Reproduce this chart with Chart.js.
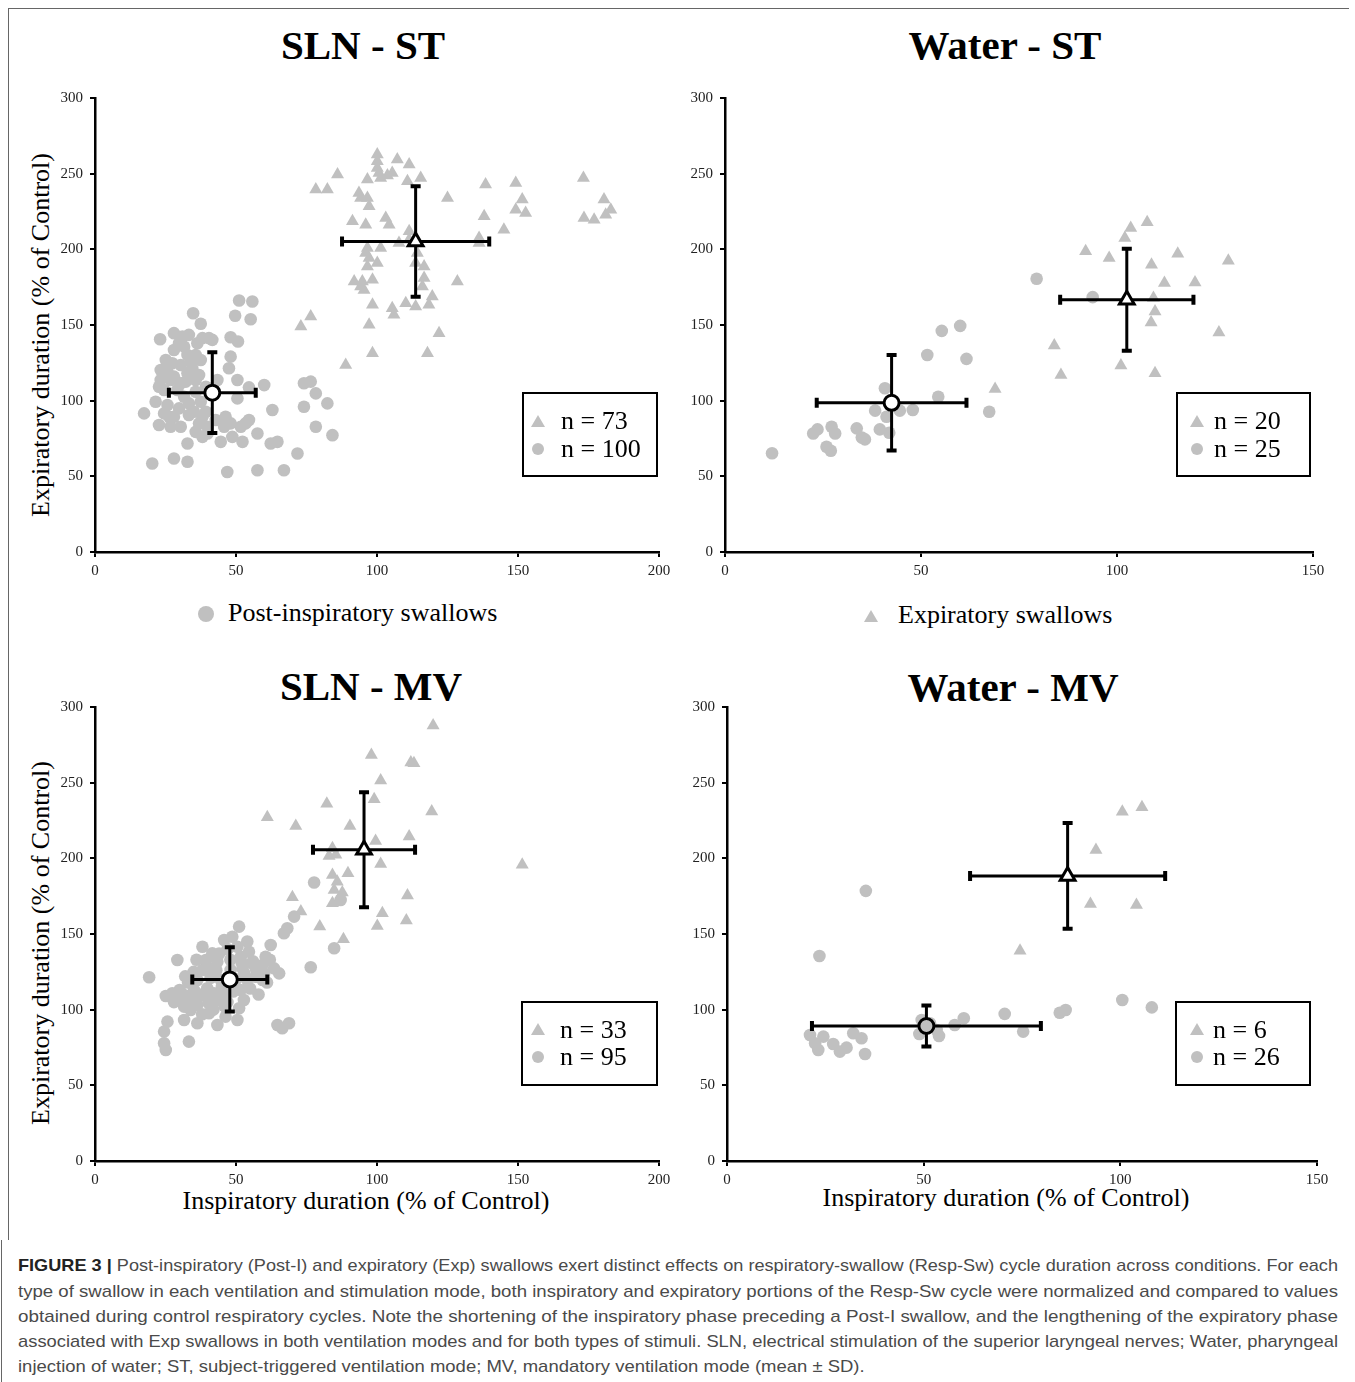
<!DOCTYPE html>
<html>
<head>
<meta charset="utf-8">
<title>Figure 3</title>
<script src="https://cdn.jsdelivr.net/npm/chart.js@4.4.0/dist/chart.umd.min.js"></script>
<style>
  body { margin: 0; background: #fff; }
  #page { position: relative; width: 1355px; height: 1382px; overflow: hidden; background: #fff;
          font-family: 'Liberation Serif', 'Times New Roman', serif; color: #000; }
  .abs { position: absolute; white-space: nowrap; }
  canvas { position: absolute; }
  .title { font-weight: bold; font-size: 41px; width: 600px; height: 50px; line-height: 50px; text-align: center; }
  .axt { font-size: 26px; width: 600px; height: 30px; line-height: 30px; text-align: center; }
  .ylab { transform: rotate(-90deg); }
  .leg { font-size: 26px; height: 30px; line-height: 30px; }
  .nbox { border: 2px solid #000; box-sizing: border-box; }
  .ntxt { font-size: 26px; height: 28px; line-height: 28px; }
  .dot { border-radius: 50%; background: #c0c0c0; }
  .tri { width: 0; height: 0; border-left: 7px solid transparent; border-right: 7px solid transparent; border-bottom: 12px solid #c0c0c0; }
  .line { position: absolute; background: #666; }
  .cap { font-family: 'Liberation Sans', Arial, sans-serif; font-size: 17px; color: #4a4a4a; height: 22px; line-height: 22px;
         left: 18px; transform-origin: 0 50%; }
  .cap b { color: #222; }
</style>
</head>
<body>
<div id="page">
  <div class="line" style="left:8px;top:8px;width:1341px;height:1px"></div>
  <div class="line" style="left:8px;top:8px;width:1px;height:1232px"></div>
  <div class="line" style="left:1px;top:1240px;width:1px;height:142px"></div>

  <div class="abs title" style="left:63px;top:20px">SLN - ST</div>
  <div class="abs title" style="left:705px;top:20px">Water - ST</div>
  <div class="abs title" style="left:71px;top:661px">SLN - MV</div>
  <div class="abs title" style="left:713px;top:662px">Water - MV</div>

  <div class="abs axt ylab" style="left:-259px;top:320px">Expiratory duration (% of Control)</div>
  <div class="abs axt ylab" style="left:-259px;top:928px">Expiratory duration (% of Control)</div>
  <div class="abs axt" style="left:66px;top:1186px">Inspiratory duration (% of Control)</div>
  <div class="abs axt" style="left:706px;top:1183px">Inspiratory duration (% of Control)</div>

  <canvas id="c1"></canvas>
  <canvas id="c2"></canvas>
  <canvas id="c3"></canvas>
  <canvas id="c4"></canvas>

  <!-- legende tengah -->
  <div class="abs dot" style="left:198px;top:606px;width:16px;height:16px"></div>
  <div class="abs leg" style="left:228px;top:598px">Post-inspiratory swallows</div>
  <div class="abs tri" style="left:864px;top:610px"></div>
  <div class="abs leg" style="left:898px;top:600px">Expiratory swallows</div>

  <!-- kotak n -->
  <div class="abs nbox" style="left:522px;top:392px;width:136px;height:85px"></div>
  <div class="abs tri" style="left:531px;top:415px"></div>
  <div class="abs dot" style="left:532px;top:443px;width:12px;height:12px"></div>
  <div class="abs ntxt" style="left:561px;top:407px">n = 73</div>
  <div class="abs ntxt" style="left:561px;top:435px">n = 100</div>

  <div class="abs nbox" style="left:1176px;top:392px;width:135px;height:85px"></div>
  <div class="abs tri" style="left:1190px;top:415px"></div>
  <div class="abs dot" style="left:1191px;top:443px;width:12px;height:12px"></div>
  <div class="abs ntxt" style="left:1214px;top:407px">n = 20</div>
  <div class="abs ntxt" style="left:1214px;top:435px">n = 25</div>

  <div class="abs nbox" style="left:521px;top:1001px;width:137px;height:85px"></div>
  <div class="abs tri" style="left:531px;top:1023px"></div>
  <div class="abs dot" style="left:532px;top:1051px;width:12px;height:12px"></div>
  <div class="abs ntxt" style="left:560px;top:1016px">n = 33</div>
  <div class="abs ntxt" style="left:560px;top:1043px">n = 95</div>

  <div class="abs nbox" style="left:1175px;top:1001px;width:136px;height:85px"></div>
  <div class="abs tri" style="left:1190px;top:1023px"></div>
  <div class="abs dot" style="left:1191px;top:1051px;width:12px;height:12px"></div>
  <div class="abs ntxt" style="left:1213px;top:1016px">n = 6</div>
  <div class="abs ntxt" style="left:1213px;top:1043px">n = 26</div>

  <!-- caption -->
  <div class="abs cap" style="top:1255px"><b>FIGURE 3 |</b> Post-inspiratory (Post-I) and expiratory (Exp) swallows exert distinct effects on respiratory-swallow (Resp-Sw) cycle duration across conditions. For each</div>
  <div class="abs cap" style="top:1281px">type of swallow in each ventilation and stimulation mode, both inspiratory and expiratory portions of the Resp-Sw cycle were normalized and compared to values</div>
  <div class="abs cap" style="top:1306px">obtained during control respiratory cycles. Note the shortening of the inspiratory phase preceding a Post-I swallow, and the lengthening of the expiratory phase</div>
  <div class="abs cap" style="top:1331px">associated with Exp swallows in both ventilation modes and for both types of stimuli. SLN, electrical stimulation of the superior laryngeal nerves; Water, pharyngeal</div>
  <div class="abs cap" style="top:1356px">injection of water; ST, subject-triggered ventilation mode; MV, mandatory ventilation mode (mean &plusmn; SD).</div>
</div>

<script>
// --- tick labels ---
const yTicks = [0, 50, 100, 150, 200, 250, 300];
const xTicksSln = [0, 50, 100, 150, 200];
const xTicksWater = [0, 50, 100, 150];

// --- SLN - ST ---  [inspiratory %, expiratory %]
const slnStPostI = [
  [51.1,166.2],[55.8,165.5],[34.8,157.8],[49.7,156.1],[55.2,153.8],[37.5,150.8],[23.1,140.6],[28.0,144.6],[31.0,142.4],[33.3,143.5],
  [38.1,141.3],[41.6,140.2],[48.1,141.9],[50.7,139.1],[28.0,133.5],[31.6,135.7],[35.7,130.2],[25.1,126.9],[48.1,129.1],[30.4,123.6],
  [34.0,125.8],[37.5,126.9],[23.3,120.3],[47.5,121.4],[28.0,115.9],[32.8,118.1],[35.7,113.7],[23.3,113.7],[26.8,113.7],[30.4,111.5],
  [50.5,113.7],[54.6,108.8],[60.0,110.3],[24.5,107.0],[29.2,107.0],[74.1,111.5],[76.5,112.6],[78.3,104.8],[82.4,98.2],[74.1,96.0],
  [21.5,99.3],[33.3,98.2],[37.5,99.3],[50.5,101.5],[17.4,91.6],[24.5,91.6],[28.0,89.4],[35.1,92.7],[38.1,89.4],[62.9,93.8],
  [22.7,83.9],[26.8,82.8],[46.3,89.4],[48.1,85.0],[51.7,82.8],[54.6,87.2],[35.7,79.4],[38.1,76.1],[44.6,72.8],[48.7,76.1],
  [57.6,78.3],[78.3,82.8],[84.2,77.2],[32.8,71.7],[62.3,71.7],[64.7,72.8],[71.8,65.1],[28.0,61.8],[32.8,59.6],[20.3,58.5],
  [46.9,52.9],[57.6,54.0],[67.0,54.0],[29.8,137.9],[32.8,130.2],[34.5,121.4],[25.7,119.2],[32.2,112.6],[36.9,117.0],[31.6,102.6],
  [35.7,105.9],[25.7,97.1],[29.8,94.9],[33.3,90.5],[39.3,92.7],[42.8,87.2],[45.8,82.8],[39.9,82.8],[36.9,85.0],[26.3,89.4],
  [30.4,82.8],[39.3,109.2],[43.4,113.7],[22.7,109.2],[40.4,141.3],[36.3,137.9],[39.9,78.3],[53.4,85.0],[52.3,72.8],[27.4,124.7]
];
const slnStExp = [
  [100.1,262.7],[100.1,258.2],[100.1,253.8],[100.7,250.5],[107.2,259.4],[111.4,256.0],[103.7,248.8],[101.3,247.2],[86.0,249.4],[96.6,246.1],
  [115.5,247.2],[110.8,245.0],[78.3,239.5],[82.4,239.5],[94.2,234.0],[96.6,234.0],[97.2,228.4],[125.0,234.0],[138.5,242.8],[149.2,243.9],
  [151.5,232.9],[149.2,226.2],[152.7,224.0],[173.2,247.2],[180.5,232.9],[182.9,226.2],[173.4,220.7],[177.0,219.6],[181.1,222.9],[138.0,221.8],
  [145.0,213.0],[91.3,218.5],[96.0,216.3],[103.1,220.7],[104.3,216.3],[111.4,211.9],[136.2,207.5],[136.2,204.2],[96.6,200.8],[101.3,200.8],
  [107.8,204.2],[97.2,194.2],[96.6,188.7],[100.1,190.9],[113.7,190.9],[116.7,188.7],[91.9,178.8],[94.8,178.8],[98.4,179.9],[95.4,173.2],
  [116.7,181.0],[116.1,175.4],[128.5,178.8],[119.6,168.8],[98.4,163.3],[110.2,164.4],[113.7,162.2],[118.4,163.3],[105.4,161.1],[106.0,156.7],
  [76.5,155.6],[73.0,149.0],[97.2,150.1],[122.0,144.5],[98.4,131.3],[117.9,131.3],[88.9,123.6],[111.4,206.4],[94.2,175.4],[96.0,197.5],
  [93.6,237.3],[105.4,250.5],[114.3,197.5]
];
// [mean x, mean y, SD x, SD y]
const slnStPostIMean = [41.6, 105.3, 15.4, 26.7];
const slnStExpMean = [113.7, 205.2, 26.1, 36.5];

// --- Water - ST ---
const waterStPostI = [
  [12.0,65.3],[22.5,78.3],[23.6,81.0],[25.9,69.5],[27.0,66.9],[27.2,82.8],[28.1,78.3],[33.6,81.7],[34.9,75.7],[35.7,74.4],
  [38.3,93.4],[39.5,81.0],[40.8,108.2],[41.2,89.4],[41.9,78.8],[44.6,93.4],[47.9,93.8],[51.6,130.2],[54.4,102.6],[55.3,146.1],
  [60.0,149.4],[61.6,127.6],[67.4,92.7],[79.5,180.6],[93.8,168.4]
];
const waterStExp = [
  [103.5,214.1],[107.7,217.9],[102.0,207.5],[92.0,198.7],[98.0,194.3],[108.8,189.8],[115.5,197.1],[128.4,192.5],[112.1,177.7],[119.9,178.1],
  [109.3,167.8],[109.7,158.9],[108.7,151.6],[126.0,145.0],[84.0,136.4],[85.7,117.0],[101.0,123.2],[109.7,118.1],[68.9,107.7],[102.3,166.0]
];
const waterStPostIMean = [42.5, 98.6, 19.1, 31.5];
const waterStExpMean = [102.5, 166.7, 17.0, 33.7];

// --- SLN - MV ---
const slnMvPostI = [
  [19.2,121.4],[29.2,132.8],[25.1,109.0],[27.4,110.8],[31.6,109.7],[25.7,92.1],[31.6,93.2],[24.5,85.5],[24.5,77.8],[25.1,73.3],
  [33.3,78.9],[36.3,91.0],[43.4,89.9],[50.5,93.2],[45.8,146.0],[48.7,148.2],[51.1,154.9],[50.5,141.6],[41.6,137.2],[39.3,132.8],
  [38.1,126.2],[43.4,131.7],[51.7,135.0],[54.6,138.3],[55.8,130.6],[60.5,135.0],[62.3,142.7],[59.4,129.5],[63.5,127.3],[65.3,124.0],
  [36.3,119.6],[35.1,113.0],[39.8,114.1],[42.2,110.8],[44.0,106.4],[40.4,104.2],[36.3,103.1],[51.7,113.0],[54.0,119.6],[57.0,121.8],
  [59.4,119.6],[52.8,106.4],[51.1,100.9],[46.3,95.4],[40.4,97.6],[64.7,89.9],[68.8,91.0],[66.4,87.7],[67.0,150.5],[68.2,153.8],
  [70.6,161.5],[33.9,99.8],[45.8,110.8],[48.1,126.2],[44.6,119.6],[52.3,127.3],[31.6,102.0],[29.2,106.4],[39.3,108.6],[38.1,141.6],
  [77.7,184.0],[84.8,140.6],[87.1,172.5],[76.5,128.0],
  [33,118],[35,125],[37,110],[41,121],[43,126],[45,115],[47,105],[49,112],[53,124],[55,114],
  [57,127],[58,110],[42,100],[46,102],[38,97],[34,107],[30,113],[28,105],[48,133],[44,137],
  [40,128],[50,120],[52,131],[56,132],[60,124],[62,133],[61,118],[36,133],[32,122],[47,140],[54,145]
];
const slnMvExp = [
  [119.9,287.7],[98.0,268.3],[112.0,263.3],[113.1,262.8],[101.3,251.4],[99.0,239.0],[82.2,236.0],[61.1,227.2],[71.2,221.4],[90.4,221.4],
  [119.4,230.9],[99.5,211.5],[111.4,214.4],[84.2,206.7],[85.4,202.3],[83.0,201.6],[101.3,196.3],[151.5,195.7],[84.2,189.0],[89.7,190.1],
  [85.9,184.6],[84.8,179.1],[87.7,177.4],[84.2,170.3],[70.0,174.3],[110.8,175.4],[73.0,164.8],[101.9,163.7],[100.1,155.3],[110.4,158.9],
  [79.7,154.9],[88.1,146.5],[95.2,204.5]
];
const slnMvPostIMean = [47.8, 120.0, 13.3, 21.2];
const slnMvExpMean = [95.4, 205.6, 18.1, 38.0];

// --- Water - MV ---
const waterMvPostI = [
  [35.3,178.5],[23.5,135.5],[21.1,83.3],[22.4,77.8],[23.2,73.4],[27.0,77.3],[28.7,72.3],[30.4,74.9],[32.1,84.4],[34.2,81.1],
  [35.1,70.7],[48.9,83.9],[51.6,91.0],[53.9,82.6],[57.9,89.9],[60.2,94.3],[70.6,97.2],[75.3,85.5],[84.6,98.0],[86.1,99.8],
  [100.5,106.4],[108.0,101.5],[50.7,89.2],[49.5,93.2],[24.5,82.2],[53.3,86.6]
];
const waterMvExp = [
  [100.5,230.7],[105.5,233.7],[93.8,205.5],[92.4,169.9],[104.1,169.2],[74.5,139.0]
];
const waterMvPostIMean = [50.7, 89.2, 29.1, 13.5];
const waterMvExpMean = [86.6, 188.4, 24.8, 35.0];

const GREY = '#c0c0c0';
const serif = 'Liberation Serif';

// error bar digambar sebelum titik rata-rata, sesudah titik abu-abu
const errorBars = {
  id: 'errorBars',
  beforeDatasetDraw(chart, args, opts) {
    if (args.index !== 1) return;
    const xs = chart.scales.x, ys = chart.scales.y, c = chart.ctx;
    c.save();
    c.strokeStyle = '#000';
    opts.bars.forEach(m => {
      const cx = xs.getPixelForValue(m[0]), cy = ys.getPixelForValue(m[1]);
      const x0 = xs.getPixelForValue(m[0] - m[2]), x1 = xs.getPixelForValue(m[0] + m[2]);
      const y0 = ys.getPixelForValue(m[1] - m[3]), y1 = ys.getPixelForValue(m[1] + m[3]);
      c.lineWidth = 3;
      c.beginPath();
      c.moveTo(x0, cy); c.lineTo(x1, cy);
      c.moveTo(cx, y0); c.lineTo(cx, y1);
      c.stroke();
      c.lineWidth = 4;
      c.beginPath();
      c.moveTo(x0, cy - 5); c.lineTo(x0, cy + 5);
      c.moveTo(x1, cy - 5); c.lineTo(x1, cy + 5);
      c.moveTo(cx - 5, y0); c.lineTo(cx + 5, y0);
      c.moveTo(cx - 5, y1); c.lineTo(cx + 5, y1);
      c.stroke();
    });
    c.restore();
  }
};

function toPts(arr) {
  return arr.map(p => ({ x: p[0], y: p[1] }));
}

function makePanel(id, area, xTicks, postI, exp, postIMean, expMean, meanFill) {
  const padL = 70, padT = 20, padR = 30, padB = 40;
  const canvas = document.getElementById(id);
  const w = area.r - area.l + padL + padR;
  const h = area.b - area.t + padT + padB;
  canvas.width = w; canvas.height = h;
  canvas.style.left = (area.l - padL) + 'px';
  canvas.style.top = (area.t - padT) + 'px';
  canvas.style.width = w + 'px';
  canvas.style.height = h + 'px';

  const tickFont = { family: serif, size: 15 };
  return new Chart(canvas.getContext('2d'), {
    type: 'scatter',
    data: {
      datasets: [
        { data: toPts([postIMean]), pointStyle: 'circle', pointRadius: 7.5, backgroundColor: meanFill || '#fff', borderColor: '#000', borderWidth: 3 },
        { data: toPts([expMean]), pointStyle: 'triangle', pointRadius: 8.5, backgroundColor: '#fff', borderColor: '#000', borderWidth: 3 },
        { data: toPts(exp), pointStyle: 'triangle', pointRadius: 7.5, backgroundColor: GREY, borderWidth: 0 },
        { data: toPts(postI), pointStyle: 'circle', pointRadius: 6.3, backgroundColor: GREY, borderWidth: 0 }
      ]
    },
    options: {
      responsive: false,
      animation: false,
      events: [],
      clip: false,
      layout: { padding: { top: padT, right: padR, left: 0, bottom: 0 } },
      plugins: {
        legend: { display: false },
        tooltip: { enabled: false },
        errorBars: { bars: [postIMean, expMean] }
      },
      scales: {
        x: {
          type: 'linear', min: 0, max: xTicks[xTicks.length - 1],
          afterFit: s => { s.height = padB; },
          afterBuildTicks: s => { s.ticks = xTicks.map(v => ({ value: v })); },
          ticks: { color: '#222', font: tickFont, padding: 5, maxRotation: 0 },
          grid: { drawOnChartArea: false, drawTicks: true, tickLength: 5, color: '#000', lineWidth: 2 },
          border: { display: true, color: '#000', width: 2.5 }
        },
        y: {
          type: 'linear', min: 0, max: 300,
          afterFit: s => { s.width = padL; },
          afterBuildTicks: s => { s.ticks = yTicks.map(v => ({ value: v })); },
          ticks: { color: '#222', font: tickFont, padding: 7 },
          grid: { drawOnChartArea: false, drawTicks: true, tickLength: 5, color: '#000', lineWidth: 2 },
          border: { display: true, color: '#000', width: 2.5 }
        }
      }
    },
    plugins: [errorBars]
  });
}

makePanel('c1', { l: 95, t: 98, r: 659, b: 552 }, xTicksSln, slnStPostI, slnStExp, slnStPostIMean, slnStExpMean);
makePanel('c2', { l: 725, t: 98, r: 1313, b: 552 }, xTicksWater, waterStPostI, waterStExp, waterStPostIMean, waterStExpMean);
makePanel('c3', { l: 95, t: 707, r: 659, b: 1161 }, xTicksSln, slnMvPostI, slnMvExp, slnMvPostIMean, slnMvExpMean);
makePanel('c4', { l: 727, t: 707, r: 1317, b: 1161 }, xTicksWater, waterMvPostI, waterMvExp, waterMvPostIMean, waterMvExpMean, GREY);

// caption: tarik tiap baris supaya lebarnya sama dengan aslinya
const capLines = document.querySelectorAll('.cap');
const fit = [];
capLines.forEach((el, i) => {
  if (i < 4) {
    const s = 1320 / el.getBoundingClientRect().width;
    el.style.transform = 'scaleX(' + s + ')';
    fit.push(s);
  }
});
const avgFit = fit.reduce((a, b) => a + b, 0) / fit.length;
capLines[4].style.transform = 'scaleX(' + avgFit + ')';
</script>
</body>
</html>
